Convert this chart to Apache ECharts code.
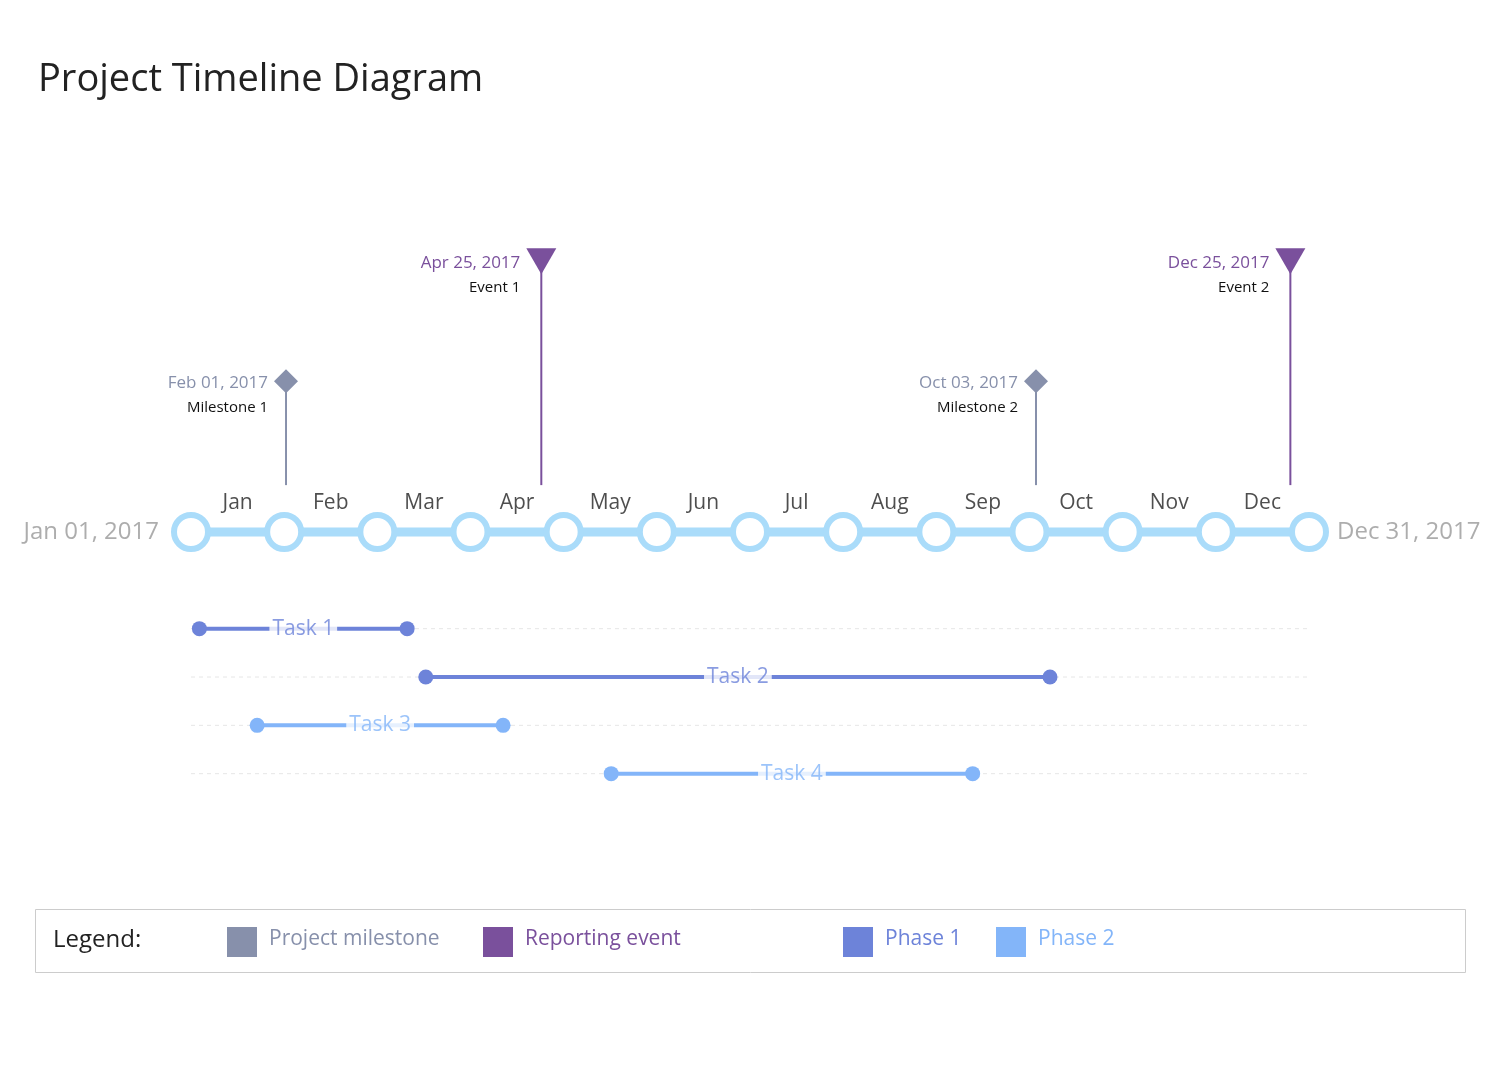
<!DOCTYPE html>
<html>
<head>
<meta charset="utf-8">
<script src="https://cdn.jsdelivr.net/npm/echarts@6/dist/echarts.min.js"></script>
<style>html,body{margin:0;padding:0;background:#fff}#chart{width:1500px;height:1065px}</style>
</head>
<body>
<div id="chart"></div>
<script>
// timeline in month units: 0 = Jan 01, 12 = Dec 31
const months = ['Jan','Feb','Mar','Apr','May','Jun','Jul','Aug','Sep','Oct','Nov','Dec']
const milestones = [
    {name: 'Milestone 1', date: 'Feb 01, 2017', at: 1.02},
    {name: 'Milestone 2', date: 'Oct 03, 2017', at: 9.07}
]
const events = [
    {name: 'Event 1', date: 'Apr 25, 2017', at: 3.76},
    {name: 'Event 2', date: 'Dec 25, 2017', at: 11.8}
]
const taskNames = ['Task 1', 'Task 2', 'Task 3', 'Task 4']
const taskStart = [0.09, 2.52, 0.71, 4.51]
const taskEnd = [2.32, 9.22, 3.35, 8.39]
const taskPhase = [1, 1, 2, 2]

const C_MILE = '#8790ab', C_EVENT = '#7a509c', C_P1 = '#6d83d9', C_P2 = '#83b5f9', C_LINE = '#aadcfa'
const MILE_LEVEL = 3.12, EVENT_LEVEL = 5.6

let chart = echarts.init(document.getElementById('chart'))
let series = []

// task row guides
taskNames.forEach((t, i) => {
    series.push({
        type: 'line', silent: true, symbol: 'none',
        lineStyle: {color: '#e6e6e6', width: 1, type: [4, 4]},
        data: [[0, -2 - i], [12, -2 - i]], z: 1
    })
})

// the main timeline
series.push({
    type: 'line', silent: true, symbol: 'circle', symbolSize: 34,
    itemStyle: {color: '#fff', borderColor: C_LINE, borderWidth: 6},
    lineStyle: {color: C_LINE, width: 9},
    data: months.concat(['']).map((m, i) => [i, 0]), z: 3
})

// month names
series.push({
    type: 'scatter', silent: true, symbolSize: 0,
    label: {show: true, formatter: p => months[p.dataIndex], color: '#222', fontSize: 21, fontFamily: 'Open Sans'},
    data: months.map((m, i) => [i + 0.5, 0.6])
})

// start / end labels
series.push({
    type: 'scatter', silent: true, symbolSize: 0,
    data: [
        {value: [0, 0], label: {show: true, position: 'left', distance: 32, formatter: 'Jan 01, 2017'}},
        {value: [12, 0], label: {show: true, position: 'right', distance: 28, formatter: 'Dec 31, 2017'}}
    ],
    label: {color: '#999', fontSize: 24, fontFamily: 'Open Sans'}
})

function flag(list, level, color, symbol, size, rotate) {
    list.forEach(m => {
        series.push({
            type: 'line', silent: true, symbol: 'none',
            lineStyle: {color: color, width: 2},
            data: [[m.at, 0.97], [m.at, level - 0.1]], z: 2
        })
    })
    series.push({
        type: 'scatter', silent: true, symbol: symbol, symbolSize: size, symbolRotate: rotate,
        itemStyle: {color: color, opacity: 1},
        label: {
            show: true, position: 'left', distance: 6, offset: [0, 14],
            formatter: p => '{d|' + list[p.dataIndex].date + '}\n{n|' + list[p.dataIndex].name + '}',
            rich: {
                d: {color: color, fontSize: 17, fontFamily: 'Open Sans', align: 'right', lineHeight: 25},
                n: {color: '#111', fontSize: 15, fontFamily: 'Open Sans', align: 'right', lineHeight: 24}
            }
        },
        data: list.map(m => [m.at, level]), z: 4
    })
}
flag(milestones, MILE_LEVEL, C_MILE, 'diamond', [24, 24], 0)
flag(events, EVENT_LEVEL, C_EVENT, 'triangle', [30, 26], 180)

// tasks
taskNames.forEach((t, i) => {
    let color = taskPhase[i] == 1 ? C_P1 : C_P2
    let y = -2 - i
    series.push({
        type: 'line', silent: true, symbol: 'circle', symbolSize: 15,
        itemStyle: {color: color}, lineStyle: {color: color, width: 4},
        data: [[taskStart[i], y], [taskEnd[i], y]], z: 3
    })
    series.push({
        type: 'scatter', silent: true, symbolSize: 1,
        itemStyle: {color: 'rgba(0,0,0,0)'},
        label: {show: true, position: 'inside', formatter: t, color: color, fontSize: 21,
                fontFamily: 'Open Sans', backgroundColor: '#fff', padding: [0, 3]},
        data: [[(taskStart[i] + taskEnd[i]) / 2, y]], z: 5
    })
})

let legendItems = [
    {text: 'Project milestone', color: C_MILE, x: 227},
    {text: 'Reporting event', color: C_EVENT, x: 483},
    {text: 'Phase 1', color: C_P1, x: 843},
    {text: 'Phase 2', color: C_P2, x: 996}
]
let graphic = [
    {type: 'rect', shape: {x: 35.5, y: 909.5, width: 1430, height: 63}, style: {fill: '#fff', stroke: '#ccc', lineWidth: 1}},
    {type: 'text', x: 53, y: 928, style: {text: 'Legend:', fontSize: 24, fill: '#222', fontFamily: 'Open Sans'}}
]
legendItems.forEach(l => {
    graphic.push({type: 'rect', shape: {x: l.x, y: 927, width: 30, height: 30}, style: {fill: l.color}})
    graphic.push({type: 'text', x: l.x + 42, y: 929, style: {text: l.text, fontSize: 21, fill: l.color, fontFamily: 'Open Sans'}})
})

chart.setOption({
    animation: false,
    title: {text: 'Project Timeline Diagram', left: 33, top: 56, textStyle: {fontSize: 38, fontWeight: 'normal', color: '#222', fontFamily: 'Open Sans'}},
    grid: {left: 191, right: 191, top: 242, bottom: 243},
    xAxis: {type: 'value', min: 0, max: 12, show: false},
    yAxis: {type: 'value', min: -6, max: 6, show: false},
    graphic: graphic,
    series: series
})
</script>
</body>
</html>
